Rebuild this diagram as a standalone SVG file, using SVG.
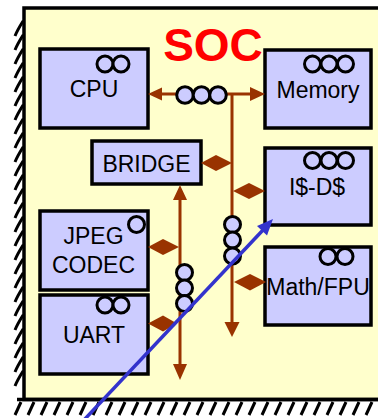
<svg xmlns="http://www.w3.org/2000/svg" width="378" height="418" viewBox="0 0 378 418">
<defs>
<style>
.box{fill:#CCCCFF;stroke:#000;stroke-width:3.5}
.lbl{font-family:"Liberation Sans",Arial,sans-serif;font-size:23px;fill:#000;text-anchor:middle}
.st{fill:#CCCCFF;stroke:#000;stroke-width:3}
.bus{stroke:#993300;stroke-width:3;fill:none}
.brn{fill:#993300}
.h{stroke:#000;stroke-width:3;fill:none}
</style>
</defs>
<rect width="378" height="418" fill="#ffffff"/>
<g id="frame">
<rect x="24" y="8" width="362" height="391.5" fill="#FFFFCC" stroke="#000" stroke-width="3.5"/>
<path class="h" d="M15,36 C17,31 20,26 22.5,22 L24,23 M15,50 C17,45 20,40 22.5,36 L24,37 M15,64 C17,59 20,54 22.5,50 L24,51 M15,78 C17,73 20,68 22.5,64 L24,65 M15,92 C17,87 20,82 22.5,78 L24,79 M15,106 C17,101 20,96 22.5,92 L24,93 M15,120 C17,115 20,110 22.5,106 L24,107 M15,134 C17,129 20,124 22.5,120 L24,121 M15,148 C17,143 20,138 22.5,134 L24,135 M15,162 C17,157 20,152 22.5,148 L24,149 M15,176 C17,171 20,166 22.5,162 L24,163 M15,190 C17,185 20,180 22.5,176 L24,177 M15,204 C17,199 20,194 22.5,190 L24,191 M15,218 C17,213 20,208 22.5,204 L24,205 M15,232 C17,227 20,222 22.5,218 L24,219 M15,246 C17,241 20,236 22.5,232 L24,233 M15,260 C17,255 20,250 22.5,246 L24,247 M15,274 C17,269 20,264 22.5,260 L24,261 M15,288 C17,283 20,278 22.5,274 L24,275 M15,302 C17,297 20,292 22.5,288 L24,289 M15,316 C17,311 20,306 22.5,302 L24,303 M15,330 C17,325 20,320 22.5,316 L24,317 M15,344 C17,339 20,334 22.5,330 L24,331 M15,358 C17,353 20,348 22.5,344 L24,345 M15,372 C17,367 20,362 22.5,358 L24,359 M15,386 C17,381 20,376 22.5,372 L24,373"/>
<line x1="17" y1="399.5" x2="378" y2="399.5" stroke="#000" stroke-width="3.5"/>
<path class="h" d="M15,415 L21,402 M28,415 L34,402 M41,415 L47,402 M54,415 L60,402 M67,415 L73,402 M80,415 L86,402 M93,415 L99,402 M106,415 L112,402 M119,415 L125,402 M132,415 L138,402 M145,415 L151,402 M158,415 L164,402 M171,415 L177,402 M184,415 L190,402 M197,415 L203,402 M210,415 L216,402 M223,415 L229,402 M236,415 L242,402 M249,415 L255,402 M262,415 L268,402 M275,415 L281,402 M288,415 L294,402 M301,415 L307,402 M314,415 L320,402 M327,415 L333,402 M340,415 L346,402 M353,415 L359,402 M366,415 L372,402"/>
<text x="213" y="61" font-family="'Liberation Sans',Arial,sans-serif" font-size="46" font-weight="bold" fill="#FF0000" text-anchor="middle">SOC</text>
</g>
<g id="cpu">
<rect class="box" x="40" y="49" width="108" height="79"/>
<circle class="st" cx="105" cy="64" r="8"/>
<circle class="st" cx="121" cy="64" r="8"/>
<text class="lbl" x="94" y="97">CPU</text>
</g>
<g id="memory">
<rect class="box" x="265" y="50" width="106" height="78"/>
<circle class="st" cx="312.5" cy="64" r="8"/>
<circle class="st" cx="329" cy="64" r="8"/>
<circle class="st" cx="345.5" cy="64" r="8"/>
<text class="lbl" x="318" y="98">Memory</text>
</g>
<g id="bridge">
<rect class="box" x="92" y="141" width="109" height="43"/>
<text class="lbl" x="146.5" y="171.5">BRIDGE</text>
</g>
<g id="icache">
<rect class="box" x="265" y="148" width="106" height="77"/>
<circle class="st" cx="312.5" cy="160.5" r="8"/>
<circle class="st" cx="329" cy="160.5" r="8"/>
<circle class="st" cx="345.5" cy="160.5" r="8"/>
<text class="lbl" x="317" y="195">I$-D$</text>
</g>
<g id="jpeg">
<rect class="box" x="40" y="211" width="108" height="79"/>
<circle class="st" cx="136.5" cy="224.5" r="8"/>
<text class="lbl" x="93.5" y="244">JPEG</text>
<text class="lbl" x="93.5" y="273">CODEC</text>
</g>
<g id="math">
<rect class="box" x="265" y="247" width="106" height="78"/>
<circle class="st" cx="328" cy="256.5" r="8"/>
<circle class="st" cx="345" cy="256.5" r="8"/>
<text class="lbl" x="318" y="295">Math/FPU</text>
</g>
<g id="uart">
<rect class="box" x="40" y="295" width="108" height="79"/>
<circle class="st" cx="105" cy="305" r="8"/>
<circle class="st" cx="121" cy="305" r="8"/>
<text class="lbl" x="94" y="343">UART</text>
</g>
<g id="connectors">
<path class="bus" d="M160,94 H178 M225,94 H252 M232,94 V323 M180,199 V365"/>
<polygon class="brn" points="148,94 162,87.5 162,100.5"/>
<polygon class="brn" points="265,94 250,87 250,101"/>
<polygon class="brn" points="232,337 224.5,322 239.5,322"/>
<polygon class="brn" points="180,185 173,200 187,200"/>
<polygon class="brn" points="180,380 173,364 187,364"/>
<polygon class="brn" points="201,163 216,155 232,163 216,171"/>
<polygon class="brn" points="233,191 249,183 265,191 249,199"/>
<polygon class="brn" points="234,282 250,274 266,282 250,290.5"/>
<polygon class="brn" points="148,247 163,239 179,247 163,255"/>
<polygon class="brn" points="148,323.5 163,315.5 177,323.5 163,331.5"/>
<circle class="st" cx="185" cy="95" r="8.3"/>
<circle class="st" cx="201.5" cy="95" r="8.3"/>
<circle class="st" cx="218" cy="95" r="8.3"/>
<circle class="st" cx="232.5" cy="224.5" r="8"/>
<circle class="st" cx="232.5" cy="240" r="8"/>
<circle class="st" cx="232.5" cy="256" r="8"/>
<circle class="st" cx="184.5" cy="272.5" r="8"/>
<circle class="st" cx="184.5" cy="288" r="8"/>
<circle class="st" cx="184.5" cy="303.5" r="8"/>
<line x1="84" y1="420" x2="263" y2="230" stroke="#3333CC" stroke-width="3.5"/>
<polygon points="273,219 257,226 267,235.5" fill="#3333CC"/>
</g>
</svg>
